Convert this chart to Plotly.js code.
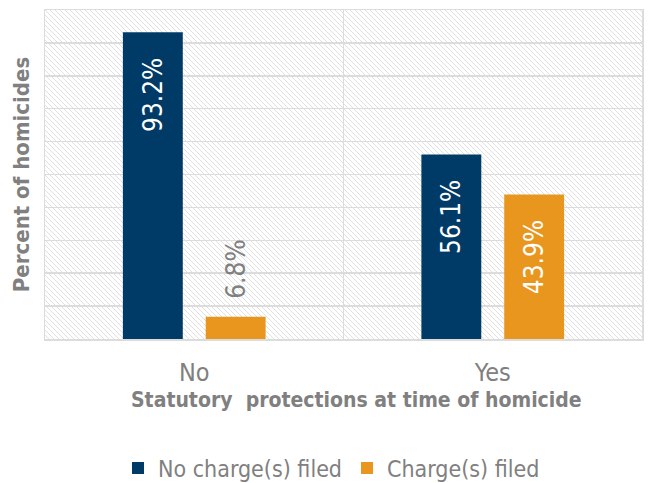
<!DOCTYPE html>
<html>
<head>
<meta charset="utf-8">
<script src="https://cdn.plot.ly/plotly-3.0.1.min.js"></script>
<style>
html,body{margin:0;padding:0;background:#fff;}
#chart{width:650px;height:483px;}
#chart svg text{font-stretch:condensed !important;}
</style>
</head>
<body>
<div id="chart"></div>
<script>
const categories = ["No", "Yes"];
const noChargeValues = [93.2, 56.1];
const chargeValues = [6.8, 43.9];
const seriesNames = ["No charge(s) filed", "Charge(s) filed"];
const xTitle = "Statutory  protections at time of homicide";
const yTitle = "Percent of homicides";

const FONT = "'DejaVu Sans Condensed', 'DejaVu Sans', sans-serif";
const GRAY = "#808080";
const PAD_IN = "\u00a0\u00a0\u00a0";
const PAD_OUT = "\u00a0\u00a0";

const svg = '<svg xmlns="http://www.w3.org/2000/svg" width="597" height="329">' +
  '<defs><pattern id="p" patternUnits="userSpaceOnUse" width="5" height="5">' +
  '<rect width="5" height="5" fill="#ffffff"/>' +
  '<path d="M-1,-1 L6,6 M-1,4 L1,6 M4,-1 L6,1" stroke="#e0e0e0" stroke-width="1"/>' +
  '</pattern></defs><rect width="597" height="329" fill="url(#p)"/></svg>';
const bgImg = "data:image/svg+xml;base64," + btoa(svg);

const isOutside = v => v < 15;
const label = v => isOutside(v) ? PAD_OUT + v.toFixed(1) + "%" : v.toFixed(1) + "%" + PAD_IN;
const pos = v => isOutside(v) ? "outside" : "inside";

function barTrace(name, values, color) {
  return {
    type: "bar", name: name, x: categories, y: values,
    text: values.map(label), textposition: values.map(pos), insidetextanchor: "end",
    textangle: -90,
    insidetextfont: {family: FONT, size: 26, color: "#ffffff"},
    outsidetextfont: {family: FONT, size: 26, color: GRAY},
    constraintext: "none",
    marker: {color: color}, cliponaxis: false, hoverinfo: "none"
  };
}

const traces = [
  barTrace(seriesNames[0], noChargeValues, "#003a66"),
  barTrace(seriesNames[1], chargeValues, "#e9961e")
];

const layout = {
  width: 650, height: 483,
  margin: {l: 45, r: 8, t: 10, b: 144, autoexpand: false},
  paper_bgcolor: "#ffffff", plot_bgcolor: "#ffffff",
  font: {family: FONT, color: GRAY},
  barmode: "group", bargap: 0.445, bargroupgap: 0.277,
  showlegend: true,
  legend: {orientation: "h", xref: "container", yref: "container", x: 0.51, xanchor: "center",
           y: 0.031, yanchor: "middle",
           font: {family: FONT, size: 23, color: GRAY}, itemwidth: 30, traceorder: "normal"},
  xaxis: {
    tickson: "boundaries", showgrid: true, gridcolor: "#dcdcdc", gridwidth: 1.5,
    ticks: "", showline: true, linecolor: "#dcdcdc", linewidth: 1.5, mirror: true,
    tickfont: {family: FONT, size: 25, color: GRAY}, ticklabelstandoff: 10
  },
  yaxis: {
    range: [0, 100], dtick: 10, showticklabels: false, ticks: "",
    showgrid: true, gridcolor: "#dcdcdc", gridwidth: 1.5, zeroline: false,
    showline: true, linecolor: "#dcdcdc", linewidth: 1.5, mirror: true,
    title: {text: "<b>" + yTitle + "</b>", font: {family: FONT, size: 22, color: GRAY}, standoff: 8}
  },
  annotations: [{
    text: "<b>" + xTitle + "</b>", xref: "paper", yref: "paper", x: 0.521, y: -0.185,
    xanchor: "center", yanchor: "middle", showarrow: false,
    font: {family: FONT, size: 21, color: GRAY}
  }],
  images: [{
    source: bgImg, xref: "paper", yref: "paper", x: 0, y: 1, sizex: 1, sizey: 1,
    xanchor: "left", yanchor: "top", sizing: "stretch", layer: "below"
  }]
};

Plotly.newPlot("chart", traces, layout, {displayModeBar: false, staticPlot: true});
</script>
</body>
</html>
